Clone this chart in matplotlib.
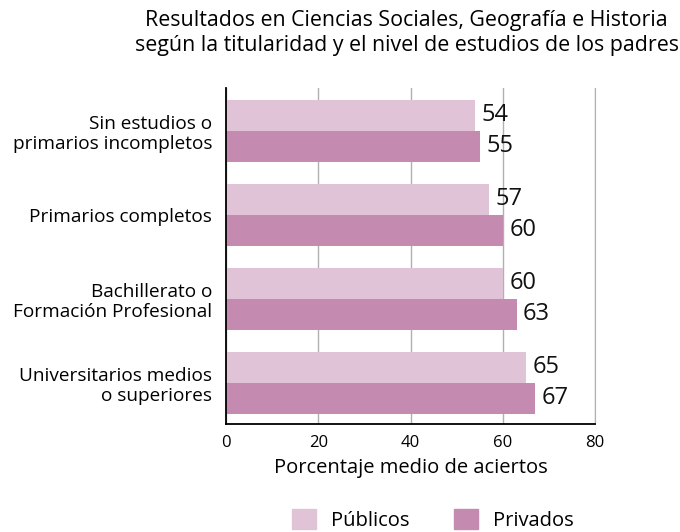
import matplotlib

matplotlib.use("Agg")
import matplotlib.pyplot as plt
import numpy as np
from matplotlib.patches import Patch

plt.rcParams["font.family"] = ["Open Sans", "DejaVu Sans"]

categories = [
    "Sin estudios o\nprimarios incompletos",
    "Primarios completos",
    "Bachillerato o\nFormación Profesional",
    "Universitarios medios\no superiores",
]
publicos = [54, 57, 60, 65]
privados = [55, 60, 63, 67]
series_names = ["Públicos", "Privados"]
xticks = [0, 20, 40, 60, 80]

col_pub = "#e0c3d7"
col_priv = "#c48ab0"

fig = plt.figure(figsize=(6.8, 5.32), dpi=100)
ax = fig.add_axes([0.3324, 0.203, 0.5426, 0.6316])

y = np.arange(len(categories))
h = 0.37
ax.barh(y - h / 2, publicos, height=h, color=col_pub, zorder=2)
ax.barh(y + h / 2, privados, height=h, color=col_priv, zorder=2)

for yi, v in zip(y - h / 2, publicos):
    ax.text(v + 1.4, yi, str(v), va="center", ha="left", fontsize=17, color="#111111")
for yi, v in zip(y + h / 2, privados):
    ax.text(v + 1.4, yi, str(v), va="center", ha="left", fontsize=17, color="#111111")

ax.set_xlim(0, 80)
ax.set_ylim(3.49, -0.51)
ax.set_xticks(xticks)
ax.set_xticklabels([str(t) for t in xticks], fontsize=12)
ax.set_yticks(y)
ax.set_yticklabels(categories, fontsize=13.7, linespacing=1.15)
ax.tick_params(axis="both", length=0, pad=8)
ax.tick_params(axis="y", pad=10)
ax.grid(axis="x", color="#b0b0b0", linewidth=1, zorder=0)
ax.spines["top"].set_visible(False)
ax.spines["right"].set_color("#b0b0b0")
ax.spines["left"].set_color("#000000")
ax.spines["bottom"].set_color("#000000")
ax.spines["left"].set_linewidth(1.3)
ax.spines["bottom"].set_linewidth(1.3)
ax.set_xlabel("Porcentaje medio de aciertos", fontsize=14.5, labelpad=5)

fig.text(0.598, 0.982, "Resultados en Ciencias Sociales, Geografía e Historia\n"
         "según la titularidad y el nivel de estudios de los padres",
         ha="center", va="top", fontsize=15.4, linespacing=1.25)

handles = [Patch(color=col_pub), Patch(color=col_priv)]
fig.legend(handles, series_names, loc="lower center", bbox_to_anchor=(0.637, -0.032),
           ncol=2, frameon=False, fontsize=14.5, handlelength=1.2, handleheight=1.2,
           columnspacing=2.2, handletextpad=0.75)

fig.savefig("out.png", dpi=100)
